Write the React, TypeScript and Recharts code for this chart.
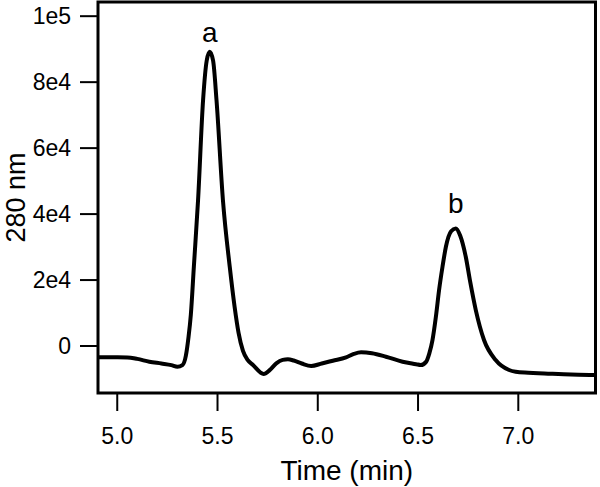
import React from 'react';
import { LineChart, Line, XAxis, YAxis, ReferenceArea, ReferenceDot } from 'recharts';

const times = [
  4.904, 4.95, 5.0, 5.05, 5.1, 5.16, 5.22, 5.27, 5.3, 5.325, 5.342, 5.355, 5.367, 5.382, 5.403, 5.428, 5.446,
  5.461, 5.478, 5.495, 5.527, 5.561, 5.585, 5.605, 5.627, 5.65, 5.677, 5.73, 5.76, 5.793, 5.825, 5.851,
  5.88, 5.92, 5.967, 6.02, 6.075, 6.141, 6.18, 6.216, 6.27, 6.34, 6.423, 6.49, 6.514, 6.54, 6.556, 6.572,
  6.589, 6.605, 6.622, 6.639, 6.665, 6.688, 6.71, 6.738, 6.76, 6.788, 6.829, 6.887, 6.954, 6.987, 7.05,
  7.1, 7.2, 7.3, 7.385,
];

const absorbance = [
  -3400, -3420, -3430, -3450, -3900, -4750, -5300, -5800, -6300, -5800, -3000, 2500, 9500, 24030, 44240, 74545, 86500,
  89180, 86500, 74545, 44240, 24030, 12000, 4000, -1500, -4200, -5760, -8480, -7300, -5250, -4200, -4030,
  -4400, -5300, -6060, -5300, -4450, -3430, -2400, -1920, -2200, -3240, -4750, -5500, -5760, -4800, -2300, 1800,
  8880, 17000, 24030, 30100, 34800, 35650, 33500, 27060, 19500, 10900, 1820, -4240, -7270, -7790, -8100,
  -8280, -8500, -8700, -8790,
];

const xTicks = [5.0, 5.5, 6.0, 6.5, 7.0];
const xTickLabels = ['5.0', '5.5', '6.0', '6.5', '7.0'];
const yTicks = [0, 20000, 40000, 60000, 80000, 100000];
const yTickLabels = ['0', '2e4', '4e4', '6e4', '8e4', '1e5'];

const peakLabels = ['a', 'b'];
const peakTimes = [5.461, 6.688];
const peakValues = [89180, 35650];

const xDomain = [4.904, 7.385];
const yDomain = [-14242, 104300];

const data = times.map((t, i) => ({ t, v: absorbance[i] }));

const FONT = '"Liberation Sans", Arial, sans-serif';

export default function App() {
  return (
    <div style={{ position: 'absolute', left: 0, top: 0 }}>
      <LineChart width={600} height={487} data={data} margin={{ top: 2, right: 4.5, bottom: 0, left: 0 }}>
        <XAxis
          dataKey="t"
          type="number"
          domain={xDomain}
          allowDataOverflow
          ticks={xTicks}
          tickFormatter={(v: number) => xTickLabels[xTicks.indexOf(v)] ?? String(v)}
          height={94}
          axisLine={false}
          tickSize={18}
          tickMargin={17}
          tickLine={{ stroke: '#000', strokeWidth: 2 }}
          tick={{ fill: '#000', fontSize: 23, fontFamily: FONT }}
          label={{ value: 'Time (min)', position: 'insideBottom', offset: 7, fill: '#000', fontSize: 28, fontFamily: FONT }}
        />
        <YAxis
          type="number"
          domain={yDomain}
          allowDataOverflow
          ticks={yTicks}
          tickFormatter={(v: number) => yTickLabels[yTicks.indexOf(v)] ?? String(v)}
          width={98}
          axisLine={false}
          tickSize={18}
          tickMargin={9}
          tickLine={{ stroke: '#000', strokeWidth: 2 }}
          tick={{ fill: '#000', fontSize: 23, fontFamily: FONT }}
          label={{
            value: '280 nm',
            angle: -90,
            position: 'insideLeft',
            offset: 15,
            fill: '#000',
            fontSize: 27,
            fontFamily: FONT,
            style: { textAnchor: 'middle' },
          }}
        />
        <ReferenceArea
          x1={xDomain[0]}
          x2={xDomain[1]}
          y1={yDomain[0]}
          y2={yDomain[1]}
          fill="none"
          stroke="#000"
          strokeWidth={3}
          ifOverflow="visible"
        />
        <Line
          type="monotone"
          dataKey="v"
          stroke="#000"
          strokeWidth={4}
          dot={false}
          isAnimationActive={false}
        />
        <ReferenceDot
          x={peakTimes[0]}
          y={peakValues[0]}
          r={0}
          fill="none"
          stroke="none"
          label={{ value: peakLabels[0], position: 'top', offset: 10, fill: '#000', fontSize: 28, fontFamily: FONT }}
        />
        <ReferenceDot
          x={peakTimes[1]}
          y={peakValues[1]}
          r={0}
          fill="none"
          stroke="none"
          label={{ value: peakLabels[1], position: 'top', offset: 15, fill: '#000', fontSize: 28, fontFamily: FONT }}
        />
      </LineChart>
    </div>
  );
}
